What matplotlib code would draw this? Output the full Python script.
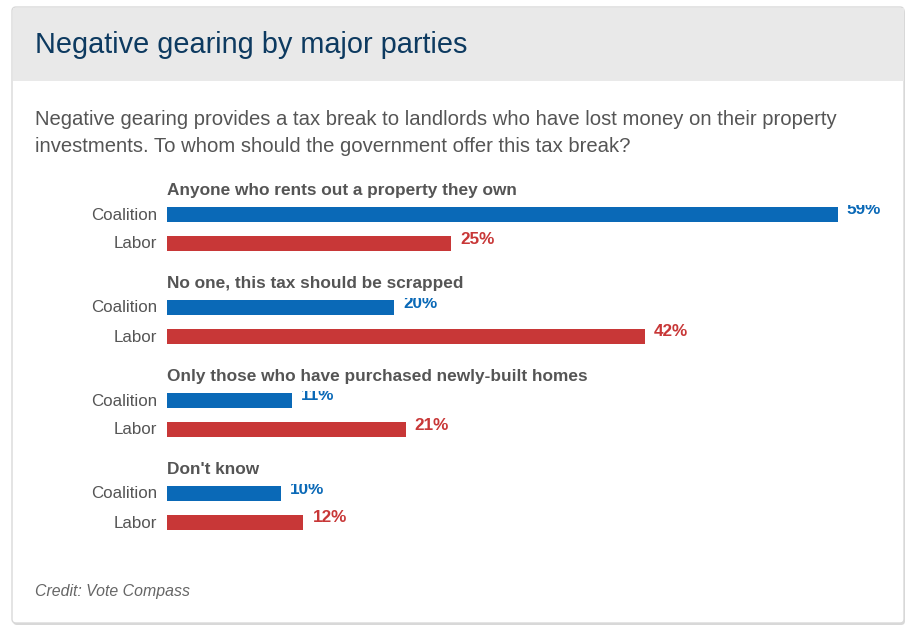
import matplotlib
matplotlib.use("Agg")
import matplotlib.pyplot as plt
from matplotlib.patches import FancyBboxPatch, Rectangle

plt.rcParams['font.family'] = ['Liberation Sans', 'DejaVu Sans']

# ---- data ----
title = "Negative gearing by major parties"
subtitle = ["Negative gearing provides a tax break to landlords who have lost money on their property",
            "investments. To whom should the government offer this tax break?"]
credit = "Credit: Vote Compass"
categories = ["Anyone who rents out a property they own",
              "No one, this tax should be scrapped",
              "Only those who have purchased newly-built homes",
              "Don't know"]
parties = ["Coalition", "Labor"]
coalition = [59, 20, 11, 10]
labor = [25, 42, 21, 12]
party_colors = ["#0a69b7", "#c83737"]

W, H = 918, 637
fig = plt.figure(figsize=(W / 100, H / 100), dpi=100)
fig.patch.set_facecolor("white")

# background / card axes in pixel coordinates
bg = fig.add_axes([0, 0, 1, 1])
bg.set_xlim(0, W)
bg.set_ylim(H, 0)
bg.axis("off")

cx0, cy0, cx1, cy1 = 12, 7, 904, 623
# shadow
bg.add_patch(FancyBboxPatch((cx0 + 1, cy0 + 2), cx1 - cx0, cy1 - cy0,
                            boxstyle="round,pad=0,rounding_size=4",
                            facecolor="#d8d8d8", edgecolor="none", zorder=0))
bg.add_patch(FancyBboxPatch((cx0, cy0), cx1 - cx0, cy1 - cy0,
                            boxstyle="round,pad=0,rounding_size=4",
                            facecolor="white", edgecolor="#d9d9d9", linewidth=1, zorder=1))
bg.add_patch(Rectangle((cx0 + 0.5, cy0 + 0.5), cx1 - cx0 - 1, 80 - cy0,
                       facecolor="#e9e9e9", edgecolor="none", zorder=2))

bg.text(35, 53, title, fontsize=20.8, color="#0d3a60", va="baseline", ha="left", zorder=3)
bg.text(35, 125, subtitle[0], fontsize=14.55, color="#555555", va="baseline", ha="left", zorder=3)
bg.text(35, 152, subtitle[1], fontsize=14.55, color="#555555", va="baseline", ha="left", zorder=3)
bg.text(35, 596, credit, fontsize=11.4, style="italic", color="#666666", va="baseline", ha="left", zorder=3)

# bar axes: x in percent, y in pixel offsets
px_per_pct = 11.37
ax_left, ax_top, ax_bottom = 167, 170, 540
xmax = 60
ax = fig.add_axes([ax_left / W, 1 - ax_bottom / H, xmax * px_per_pct / W, (ax_bottom - ax_top) / H])
ax.set_xlim(0, xmax)
ax.set_ylim(ax_bottom - ax_top, 0)
ax.axis("off")
ax.patch.set_alpha(0)

group_step = 93
first_center = 44.5
party_step = 29
bar_h = 15

for i, cat in enumerate(categories):
    base = first_center + group_step * i
    ax.text(0, base - 19.5, cat, fontsize=12.45, fontweight="bold", color="#555555",
            ha="left", va="baseline", clip_on=False)
    for j, (vals, name) in enumerate(zip([coalition, labor], parties)):
        yc = base + party_step * j
        v = vals[i]
        ax.barh(yc, v, height=bar_h, color=party_colors[j], left=0)
        ax.annotate(name, xy=(0, yc), xytext=(-10, -5), textcoords="offset pixels",
                    ha="right", va="baseline", fontsize=12.2, color="#555555",
                    annotation_clip=False)
        t = ax.annotate(f"{v}%", xy=(v, yc), xytext=(9, 0), textcoords="offset pixels",
                        ha="left", va="baseline", fontsize=12.3, fontweight="bold",
                        color=party_colors[j], annotation_clip=False)
        if j == 0:
            clip = Rectangle((-5, yc - bar_h / 2 - 2), 200, 40, transform=ax.transData)
            t.set_clip_on(True)
            t.set_clip_path(clip)

fig.savefig("out.png", dpi=100, facecolor="white")
